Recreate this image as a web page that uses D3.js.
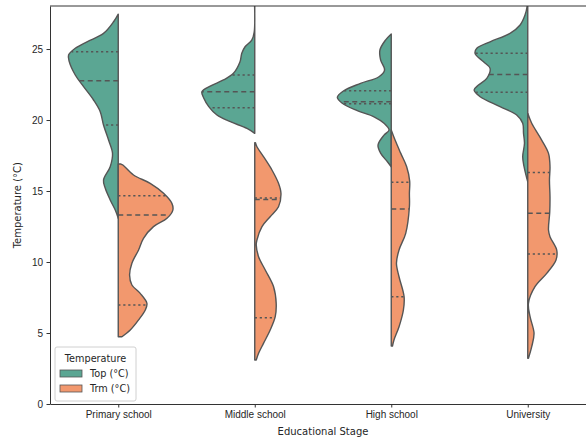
<!DOCTYPE html>
<html>
<head>
<meta charset="utf-8">
<script src="https://cdn.jsdelivr.net/npm/d3@7"></script>
<style>
  body { margin: 0; background: #fff; }
  svg { display: block; font-family: 'DejaVu Sans', sans-serif; }
  .axis text { font-size: 10px; fill: #262626; }
  .axis path, .axis line { stroke: #333; }
</style>
</head>
<body>
<svg id="chart"></svg>
<script>
// 数据
const categories = ['Primary school', 'Middle school', 'High school', 'University'];
const seriesNames = ['Top (°C)', 'Trm (°C)'];
const yTicks = [0, 5, 10, 15, 20, 25];

// 密度轮廓 [温度, 半宽(类别单位)]
const topProfiles = [
  [[27.46, 0], [26.92, 0.034], [26.1, 0.108], [25.51, 0.229], [25.05, 0.315], [24.58, 0.364],
   [24.11, 0.359], [23.17, 0.315], [22.35, 0.254], [21.41, 0.181], [20.59, 0.132], [19.65, 0.108],
   [18.59, 0.071], [17.65, 0.042], [16.71, 0.059], [15.77, 0.108], [15.19, 0.095], [14.37, 0.059],
   [13.66, 0.022], [13.08, 0]],
  [[28.6, 0.003], [26.2, 0.004], [25.63, 0.022], [25.16, 0.071], [24.7, 0.095], [24.1, 0.108],
   [23.29, 0.156], [22.82, 0.229], [22.39, 0.326], [21.99, 0.387], [21.53, 0.373], [20.94, 0.337],
   [20.35, 0.277], [19.88, 0.179], [19.41, 0.057], [19.06, 0]],
  [[26.06, 0], [25.63, 0.042], [24.93, 0.083], [24.23, 0.078], [23.52, 0.049], [23.05, 0.09],
   [22.58, 0.225], [22.06, 0.348], [21.6, 0.395], [21.18, 0.359], [20.66, 0.249], [20.23, 0.126],
   [19.77, 0.053], [19.3, 0.016], [18.94, 0.053], [18.24, 0.097], [17.65, 0.077], [17.06, 0.028],
   [16.71, 0]],
  [[28.6, 0], [28.03, 0.004], [27.39, 0.02], [26.69, 0.056], [26.1, 0.13], [25.51, 0.276],
   [25.05, 0.373], [24.7, 0.386], [24.1, 0.324], [23.64, 0.276], [22.93, 0.3], [22.46, 0.361],
   [22.11, 0.393], [21.64, 0.349], [20.94, 0.203], [20.35, 0.081], [19.77, 0.037], [19.06, 0.031],
   [18.36, 0.024], [17.42, 0.037], [16.71, 0.027], [15.89, 0.007], [15.65, 0]]
];
const trmProfiles = [
  [[16.9, 0.02], [16.83, 0.034], [16.13, 0.112], [15.54, 0.234], [14.84, 0.332], [14.13, 0.393],
   [13.66, 0.4], [13.08, 0.357], [12.49, 0.258], [11.67, 0.185], [10.85, 0.149], [9.91, 0.1],
   [9.08, 0.083], [8.38, 0.1], [7.79, 0.161], [7.09, 0.21], [6.62, 0.198], [5.92, 0.149],
   [5.21, 0.088], [4.74, 0.027]],
  [[18.4, 0.005], [18.12, 0.016], [17.42, 0.064], [16.48, 0.126], [15.54, 0.174], [14.84, 0.192],
   [13.89, 0.174], [13.19, 0.113], [12.49, 0.053], [11.55, 0.016], [11.2, 0.011], [10.37, 0.028],
   [9.44, 0.077], [8.26, 0.138], [7.09, 0.157], [6.15, 0.15], [5.21, 0.113], [4.27, 0.064],
   [3.57, 0.028], [3.1, 0.011]],
  [[19.3, 0], [18.59, 0.028], [17.65, 0.07], [16.71, 0.113], [15.7, 0.135], [14.84, 0.133],
   [13.89, 0.133], [12.02, 0.106], [10.85, 0.057], [9.91, 0.038], [8.96, 0.057], [7.56, 0.094],
   [6.62, 0.089], [5.44, 0.057], [4.51, 0.02], [4.08, 0.009]],
  [[20.47, 0], [19.77, 0.029], [18.59, 0.102], [17.65, 0.152], [16.71, 0.163], [15.77, 0.159],
   [14.6, 0.163], [13.5, 0.161], [12.25, 0.152], [11.78, 0.163], [10.85, 0.212], [10.14, 0.207],
   [9.2, 0.139], [8.26, 0.053], [7.09, 0.005], [6.15, 0.017], [4.98, 0.046], [4.04, 0.029],
   [3.22, 0.005]]
];

// 四分位数 [Q1, 中位数, Q3]
const topQuartiles = [[19.65, 22.77, 24.81], [20.87, 21.99, 23.17], [21.15, 21.29, 22.06], [21.95, 23.2, 24.7]];
const trmQuartiles = [[6.97, 13.31, 14.67], [6.08, 14.4, 14.5], [7.56, 13.73, 15.61], [10.56, 13.43, 16.3]];

const colors = ['#5ba693', '#f2986e'];
const edge = '#555';

// 画布
const W = 586, H = 438;
const svg = d3.select('#chart').attr('width', W).attr('height', H);

const x = d3.scaleLinear().domain([-0.5, 3.5]).range([50, 596]);
const y = d3.scaleLinear().domain([0, 28.03]).range([404, 6]);

svg.append('defs').append('clipPath').attr('id', 'plot-clip')
  .append('rect').attr('x', 50).attr('y', 6).attr('width', 546).attr('height', 398);

const plot = svg.append('g').attr('clip-path', 'url(#plot-clip)');

function widthAt(profile, t) {
  for (let i = 0; i < profile.length - 1; i++) {
    const a = profile[i], b = profile[i + 1];
    if ((t <= a[0] && t >= b[0])) {
      const f = (a[0] - t) / (a[0] - b[0]);
      return a[1] + f * (b[1] - a[1]);
    }
  }
  return 0;
}

function drawHalf(profile, quart, i, side, color) {
  const area = d3.area()
    .curve(d3.curveCatmullRom)
    .y((d) => y(d[0]))
    .x0(x(i))
    .x1((d) => x(i + side * d[1]));
  plot.append('path')
    .datum(profile)
    .attr('d', area)
    .attr('fill', color)
    .attr('stroke', edge)
    .attr('stroke-width', 1.4)
    .attr('stroke-linejoin', 'round');

  quart.forEach((q, k) => {
    const w = widthAt(profile, q);
    plot.append('line')
      .attr('x1', x(i)).attr('x2', x(i + side * w))
      .attr('y1', y(q)).attr('y2', y(q))
      .attr('stroke', edge)
      .attr('stroke-width', 1.5)
      .attr('stroke-dasharray', k === 1 ? '5,3.5' : '2.2,2.8');
  });
}

categories.forEach((c, i) => {
  drawHalf(topProfiles[i], topQuartiles[i], i, -1, colors[0]);
  drawHalf(trmProfiles[i], trmQuartiles[i], i, 1, colors[1]);
});

// 坐标轴
const xAxis = d3.axisBottom(x).tickValues(d3.range(categories.length))
  .tickFormat((d) => categories[d]).tickSize(3.5).tickPadding(3.5).tickSizeOuter(0);
const yAxis = d3.axisLeft(y).tickValues(yTicks).tickSize(3.5).tickPadding(3.5).tickSizeOuter(0);

svg.append('g').attr('class', 'axis').attr('transform', 'translate(0,404)').call(xAxis);
svg.append('g').attr('class', 'axis').attr('transform', 'translate(50,0)').call(yAxis);

// 边框
svg.append('line').attr('x1', 50).attr('x2', 596).attr('y1', 6).attr('y2', 6)
  .attr('stroke', '#333');

// 轴标签
svg.append('text')
  .attr('x', x(1.5)).attr('y', 435)
  .attr('text-anchor', 'middle')
  .style('font-size', '10px').attr('fill', '#262626')
  .text('Educational Stage');

svg.append('text')
  .attr('transform', 'rotate(-90)')
  .attr('x', -y(14)).attr('y', 21)
  .attr('text-anchor', 'middle')
  .style('font-size', '10px').attr('fill', '#262626')
  .text('Temperature (°C)');

// 图例
const legend = svg.append('g').attr('transform', 'translate(55,347)');
legend.append('rect')
  .attr('width', 81).attr('height', 54).attr('rx', 2)
  .attr('fill', '#fff').attr('fill-opacity', 0.8)
  .attr('stroke', '#d0d0d0');
legend.append('text')
  .attr('x', 40.5).attr('y', 15)
  .attr('text-anchor', 'middle')
  .style('font-size', '9.7px').attr('fill', '#262626')
  .text('Temperature');
seriesNames.forEach((s, k) => {
  const g = legend.append('g').attr('transform', `translate(5,${23 + k * 15})`);
  g.append('rect').attr('width', 22).attr('height', 7)
    .attr('fill', colors[k]).attr('stroke', edge).attr('stroke-width', 0.8);
  g.append('text').attr('x', 30).attr('y', 7)
    .style('font-size', '9.7px').attr('fill', '#262626')
    .text(s);
});
</script>
</body>
</html>
